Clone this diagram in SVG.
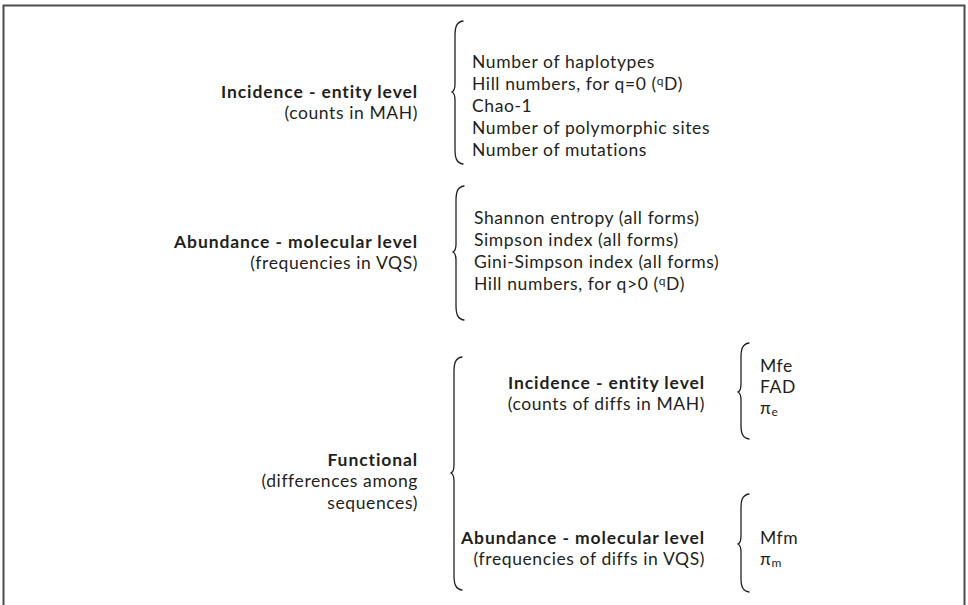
<svg xmlns="http://www.w3.org/2000/svg" width="968" height="605" viewBox="0 0 968 605">
<style>
text{font-family:Lato,"Open Sans",sans-serif;font-size:17.5px;fill:#231f20;letter-spacing:0.6px}
.b{font-weight:bold;letter-spacing:0.9px}
.r{text-anchor:end}
.br{fill:none;stroke:#231f20;stroke-width:1.3;stroke-linecap:round}
.sub{font-size:12px;letter-spacing:0}
.sup{font-size:12px}
</style>
<rect x="3.5" y="5.5" width="961" height="640" fill="none" stroke="#4d4d4d" stroke-width="2"/>
<g id="connectors">
<path class="br" d="M463,21 C456,22 455,28 455,36 L455,84 C455,89 454,91 452,92 C454,93 455,95 455,100 L455,149 C455,157 456,163 463,164"/>
<path class="br" d="M464,186 C457,187 456,193 456,201 L456,244 C456,249 455,251 453,252 C455,253 456,255 456,260 L456,305 C456,313 457,319 464,320"/>
<path class="br" d="M462,357 C455,358 454,364 454,372 L454,465 C454,470 453,472 451,473 C453,474 454,476 454,481 L454,575 C454,583 455,589 462,590"/>
<path class="br" d="M749,343 C742,344 741,350 741,357 L741,384 C741,389 740,391 738,392 C740,393 741,395 741,400 L741,425 C741,432 742,438 749,439"/>
<path class="br" d="M749,494 C742,495 741,501 741,508 L741,536 C741,541 740,543 738,544 C740,545 741,547 741,552 L741,578 C741,585 742,591 749,592"/>
</g>
<g id="incidence">
<text class="b r" x="418" y="98">Incidence - entity level</text>
<text class="r" x="418" y="119">(counts in MAH)</text>
</g>
<g id="incidence-list">
<text x="472" y="68">Number of haplotypes</text>
<text x="472" y="90">Hill numbers, for q=0 (<tspan class="sup" dy="-5">q</tspan><tspan dy="5">D)</tspan></text>
<text x="472" y="112">Chao-1</text>
<text x="472" y="134">Number of polymorphic sites</text>
<text x="472" y="156">Number of mutations</text>
</g>
<g id="abundance">
<text class="b r" x="418" y="248">Abundance - molecular level</text>
<text class="r" x="418" y="269">(frequencies in VQS)</text>
</g>
<g id="abundance-list">
<text x="474" y="224">Shannon entropy (all forms)</text>
<text x="474" y="246">Simpson index (all forms)</text>
<text x="474" y="268">Gini-Simpson index (all forms)</text>
<text x="474" y="290">Hill numbers, for q&gt;0 (<tspan class="sup" dy="-5">q</tspan><tspan dy="5">D)</tspan></text>
</g>
<g id="functional">
<text class="b r" x="418" y="466">Functional</text>
<text class="r" x="418" y="487">(differences among</text>
<text class="r" x="418" y="509">sequences)</text>
</g>
<g id="func-incidence">
<text class="b r" x="705" y="389">Incidence - entity level</text>
<text class="r" x="705" y="410">(counts of diffs in MAH)</text>
</g>
<g id="func-incidence-list">
<text x="760" y="372">Mfe</text>
<text x="760" y="393">FAD</text>
<text x="760" y="414" font-family="Liberation Serif,serif">π<tspan class="sub" font-family="Lato,sans-serif" dy="2">e</tspan></text>
</g>
<g id="func-abundance">
<text class="b r" x="705" y="544">Abundance - molecular level</text>
<text class="r" x="705" y="565">(frequencies of diffs in VQS)</text>
</g>
<g id="func-abundance-list">
<text x="760" y="544">Mfm</text>
<text x="760" y="565" font-family="Liberation Serif,serif">π<tspan class="sub" font-family="Lato,sans-serif" dy="2">m</tspan></text>
</g>
</svg>
